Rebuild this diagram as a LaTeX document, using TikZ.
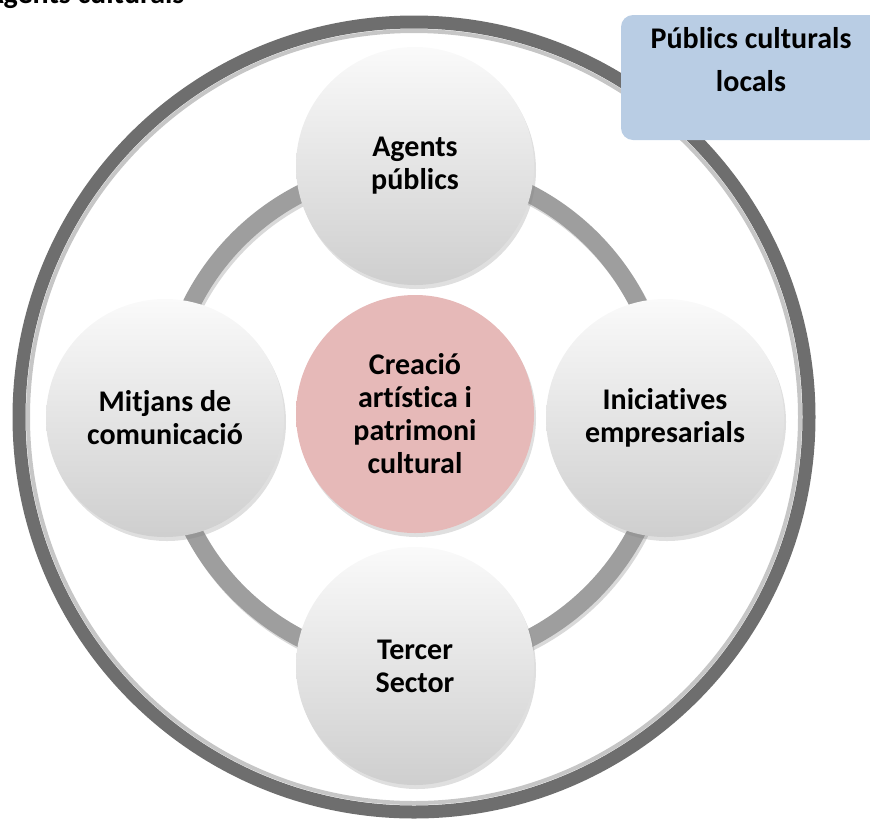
\documentclass[tikz,border=0pt]{standalone}
\usepackage{fontspec}
\setmainfont{Carlito}[Ligatures=NoCommon]
\usetikzlibrary{shadows}
\definecolor{mring}{RGB}{110, 110, 110}
\definecolor{mlink}{RGB}{158, 158, 158}
\definecolor{mpink}{RGB}{230, 185, 184}
\definecolor{mblue}{RGB}{185, 205, 228}
\tikzset{agent/.style = {circle, minimum size=238pt, inner sep=0pt, align=center,
                         top color=gray!4, bottom color=gray!38,
                         drop shadow={opacity=0.25, shadow xshift=2pt, shadow yshift=-4pt},
                         font=\bfseries\fontsize{30}{33}\selectfont}}
\tikzset{centre/.style = {agent, top color=mpink, bottom color=mpink}}

\begin{document}
\begin{tikzpicture}[x=1pt, y=-1pt]
    \clip (0, 0) rectangle (870, 820);

    \node [anchor=base west, font=\bfseries\fontsize{30}{33}\selectfont] (titol) at (-18, 3) {Agents culturals};

    \draw [gray!45, line width=4pt] (414, 417) circle (386);
    \draw [mring, line width=13pt] (414, 417) circle (395);

    \draw [black, opacity=0.15, line width=18pt] (417, 419) circle (250);
    \draw [mlink, line width=18pt] (415, 416) circle (250);

    \node [agent] (publics) at (415, 166) {Agents\\públics};
    \node [agent] (mitjans) at (165, 418) {Mitjans de\\comunicació};
    \node [agent] (empreses) at (665, 418) {Iniciatives\\empresarials};
    \node [agent] (tercer) at (415, 666) {Tercer\\Sector};
    \node [centre] (creacio) at (415, 414) {Creació\\artística i\\patrimoni\\cultural};

    \node [fill=mblue, rounded corners=12pt, minimum width=260pt, minimum height=125pt] (locals) at (751, 77.5) {};
    \node [align=center, font=\bfseries\fontsize{30}{43}\selectfont] (localstext) at (751, 60) {Públics culturals\\locals};
  \end{tikzpicture}
\end{document}
